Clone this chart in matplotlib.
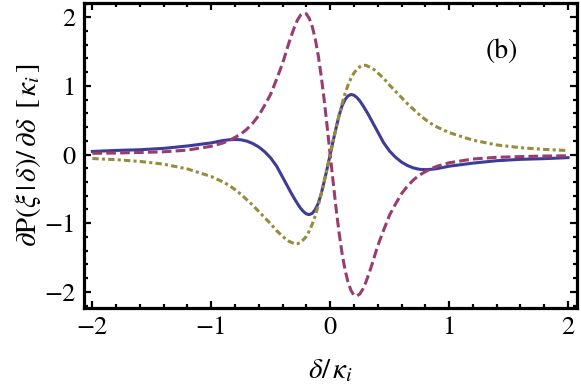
import matplotlib
matplotlib.use("Agg")
import matplotlib.pyplot as plt

# detuning delta / kappa_i
delta = [-2.0, -1.8, -1.6, -1.4, -1.2, -1.0, -0.9, -0.85, -0.8, -0.75, -0.7, -0.65, -0.6, -0.55,
         -0.5, -0.45, -0.4, -0.375, -0.35, -0.325, -0.3, -0.275, -0.25, -0.225, -0.2, -0.175,
         -0.15, -0.125, -0.1, -0.075, -0.05, -0.025, 0.0,
         0.025, 0.05, 0.075, 0.1, 0.125, 0.15, 0.175, 0.2, 0.225, 0.25, 0.275,
         0.3, 0.325, 0.35, 0.375, 0.4, 0.45, 0.5, 0.55, 0.6, 0.65, 0.7, 0.75, 0.8, 0.85, 0.9, 1.0,
         1.2, 1.4, 1.6, 1.8, 2.0]

blue_solid = [0.045, 0.06, 0.07, 0.09, 0.125, 0.17, 0.205, 0.215, 0.22, 0.215, 0.195, 0.16, 0.11, 0.04,
              -0.05, -0.17, -0.33, -0.41, -0.49, -0.57, -0.645, -0.715, -0.78, -0.83, -0.865, -0.875,
              -0.855, -0.80, -0.71, -0.57, -0.39, -0.20, 0.0,
              0.20, 0.39, 0.57, 0.71, 0.80, 0.855, 0.875, 0.865, 0.83, 0.78, 0.715,
              0.645, 0.57, 0.49, 0.41, 0.33, 0.17, 0.05, -0.04, -0.11, -0.16, -0.195, -0.215, -0.22, -0.215, -0.205, -0.17,
              -0.125, -0.09, -0.07, -0.06, -0.045]

purple_dashed = [0.018, 0.022, 0.03, 0.04, 0.065, 0.12, 0.17, 0.205, 0.25, 0.30, 0.37, 0.46, 0.57, 0.72,
                 0.88, 1.10, 1.33, 1.47, 1.61, 1.74, 1.86, 1.96, 2.03, 2.06, 2.05, 1.98,
                 1.86, 1.68, 1.44, 1.14, 0.79, 0.40, 0.0,
                 -0.40, -0.79, -1.14, -1.44, -1.68, -1.86, -1.98, -2.05, -2.06, -2.03, -1.96,
                 -1.86, -1.74, -1.61, -1.47, -1.33, -1.10, -0.88, -0.72, -0.57, -0.46, -0.37, -0.30, -0.25, -0.205, -0.17, -0.12,
                 -0.065, -0.04, -0.03, -0.022, -0.018]

olive_dashdot = [-0.058, -0.075, -0.10, -0.14, -0.21, -0.32, -0.40, -0.45, -0.51, -0.58, -0.66, -0.74, -0.83, -0.92,
                 -1.01, -1.11, -1.19, -1.23, -1.26, -1.28, -1.30, -1.30, -1.28, -1.24, -1.19, -1.11,
                 -1.01, -0.89, -0.74, -0.57, -0.39, -0.20, 0.0,
                 0.20, 0.39, 0.57, 0.74, 0.89, 1.01, 1.11, 1.19, 1.24, 1.28, 1.30,
                 1.30, 1.28, 1.26, 1.23, 1.19, 1.11, 1.01, 0.92, 0.83, 0.74, 0.66, 0.58, 0.51, 0.45, 0.40, 0.32,
                 0.21, 0.14, 0.10, 0.075, 0.058]

x_ticks = [-2, -1, 0, 1, 2]
y_ticks = [-2, -1, 0, 1, 2]
tick_labels = ['\u22122', '\u22121', '0', '1', '2']

plt.rcParams['font.family'] = ['STIXGeneral', 'DejaVu Serif']
plt.rcParams['mathtext.fontset'] = 'stix'
plt.rcParams['lines.scale_dashes'] = False

fig = plt.figure(figsize=(5.81, 3.89), dpi=100)
ax = fig.add_axes([0.1446, 0.208, 0.8484, 0.7843])

c_blue = (0.24, 0.24, 0.6)
c_purple = (0.6, 0.24, 0.4428)
c_olive = (0.6, 0.547, 0.24)

ax.plot(delta, blue_solid, color=c_blue, lw=2.2, solid_joinstyle='round')
ax.plot(delta, purple_dashed, color=c_purple, lw=2.2, dashes=(7.0, 3.0))
ax.plot(delta, olive_dashdot, color=c_olive, lw=2.2, dashes=(4.6, 2.3, 2.2, 2.3))

ax.set_xlim(-2.07, 2.075)
ax.set_ylim(-2.237, 2.208)
ax.set_xticks(x_ticks)
ax.set_yticks(y_ticks)
ax.set_xticks([v / 5 for v in range(-10, 11)], minor=True)
ax.set_yticks([v / 5 for v in range(-11, 12)], minor=True)
ax.set_xticklabels(tick_labels)
ax.set_yticklabels(tick_labels)

for s in ax.spines.values():
    s.set_linewidth(2.3)
ax.tick_params(which='both', direction='in', top=True, right=True, width=1.6, labelsize=19)
ax.tick_params(which='major', length=5, pad=6)
ax.tick_params(which='minor', length=3)

ax.set_xlabel(r'$\delta/\,\kappa_i$', fontsize=21, labelpad=12)
ax.set_ylabel(r'$\partial\mathrm{P}(\xi\,|\,\delta)/\,\partial\delta\ \, [\,\kappa_i\,]$', fontsize=21, labelpad=1)

ax.text(1.44, 1.50, '(b)', fontsize=20, ha='center', va='center')

fig.savefig('out.png', dpi=100)
